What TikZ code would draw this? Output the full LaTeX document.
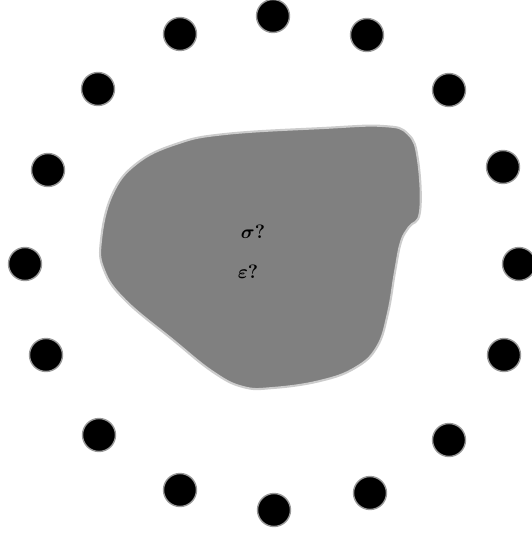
\documentclass[tikz,border=0pt]{standalone}
\usepackage{amsmath}
\usepackage{amssymb}
\usepackage{xcolor}
\usepackage{tikz}
\usetikzlibrary{shapes.geometric, arrows.meta, positioning}

\definecolor{blobgray}{HTML}{808080}
\definecolor{rimgray}{HTML}{CCCCCC}

\begin{document}
\begin{tikzpicture}[
  x=0.02cm, y=-0.02cm,
  dot/.style={circle, fill=black, draw=gray!80, line width=0.8pt,
              minimum size=0.66cm, inner sep=0pt},
  body/.style={fill=blobgray, draw=rimgray, line width=1.2pt},
  qlabel/.style={font=\fontsize{11}{13}\selectfont\bfseries\boldmath, inner sep=0pt}
]
\useasboundingbox (0,0) rectangle (531,533);

\draw[body] plot[smooth cycle, tension=0.7] coordinates {
  (176,144) (225,134) (323,128) (383,126) (408,134) (418,160)
  (420,212) (409,227) (401,242) (395,272) (388,313) (377,347)
  (355,368) (320,381) (273,388) (243,387) (213,372) (173,340)
  (125,300) (104,270) (101,240) (112,195) (136,164)};

\node[qlabel] (sig) at (253,232) {$\sigma$?};
\node[qlabel] (eps) at (248,272) {$\varepsilon$?};

\node[dot] (d1)  at (273,16)  {};
\node[dot] (d2)  at (180,34)  {};
\node[dot] (d3)  at (367,35)  {};
\node[dot] (d4)  at (98,89)   {};
\node[dot] (d5)  at (449,90)  {};
\node[dot] (d6)  at (48,170)  {};
\node[dot] (d7)  at (503,167) {};
\node[dot] (d8)  at (25,264)  {};
\node[dot] (d9)  at (519,264) {};
\node[dot] (d10) at (46,355)  {};
\node[dot] (d11) at (504,355) {};
\node[dot] (d12) at (99,435)  {};
\node[dot] (d13) at (449,440) {};
\node[dot] (d14) at (180,490) {};
\node[dot] (d15) at (370,493) {};
\node[dot] (d16) at (274,510) {};
\end{tikzpicture}
\end{document}
